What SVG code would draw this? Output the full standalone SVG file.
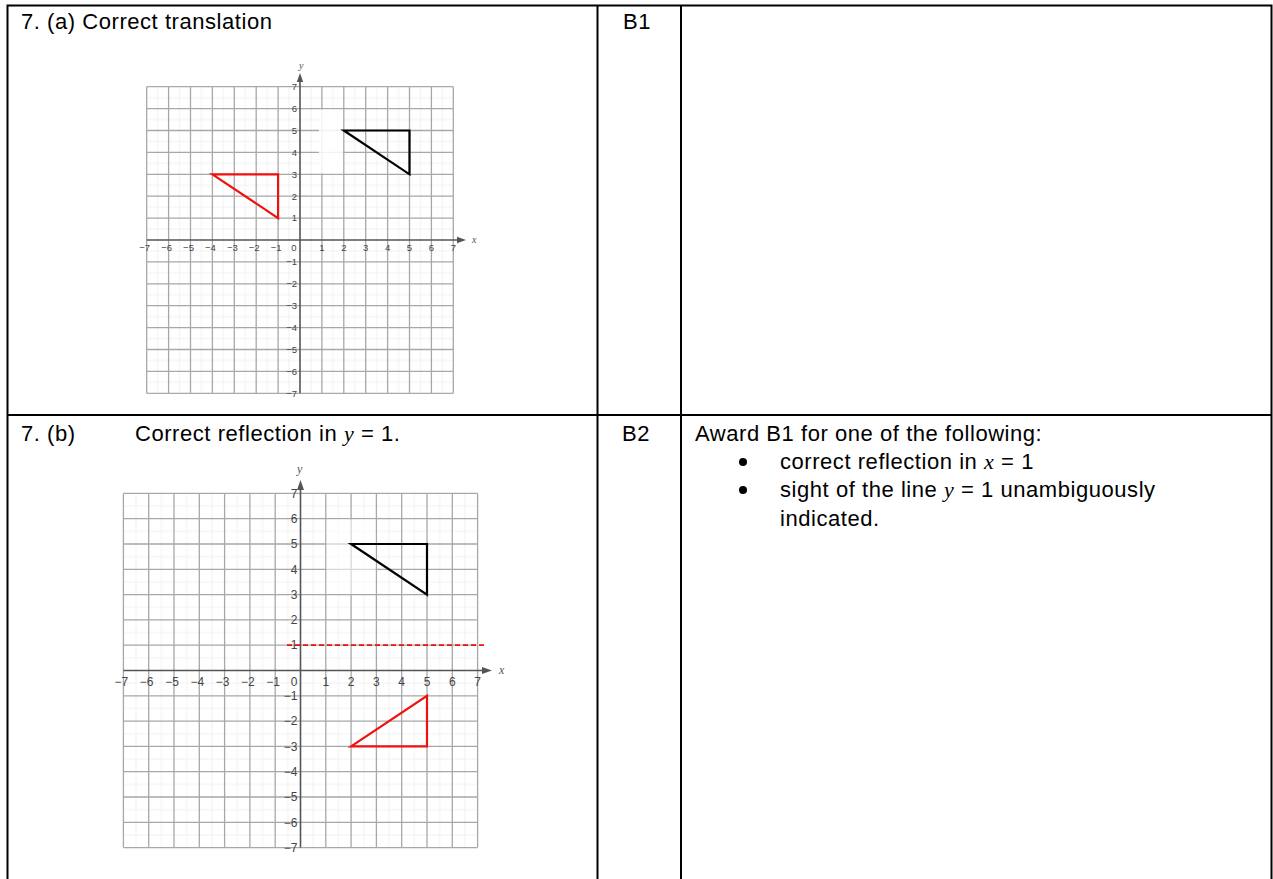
<svg xmlns="http://www.w3.org/2000/svg" width="1273" height="879" viewBox="0 0 1273 879">
<style>
.t{font-family:"Liberation Sans",Arial,sans-serif;font-size:22px;fill:#000;letter-spacing:0.55px}
.it{font-family:"Liberation Serif","Times New Roman",serif;font-style:italic}
.tbl{stroke:#000;stroke-width:2;fill:none}
.grid{stroke:#a8a8a8;stroke-width:1.3;fill:none}
.axis{stroke:#555;stroke-width:1.6;fill:none}
.ah{fill:#555}
.lbA{font-family:"Liberation Sans",Arial,sans-serif;font-size:9.5px;fill:#444}
.lbB{font-family:"Liberation Sans",Arial,sans-serif;font-size:12px;fill:#444}
.ax{font-family:"Liberation Serif","Times New Roman",serif;font-style:italic;fill:#555}
.blk{stroke:#000;stroke-width:2.2;fill:none;stroke-linejoin:miter}
.red{stroke:#f01010;stroke-width:2.2;fill:none;stroke-linejoin:miter}
</style>
<defs>
<pattern id="halfA" x="146.7" y="86.7" width="21.9" height="21.9" patternUnits="userSpaceOnUse">
<path d="M10.95 0V21.9M0 10.95H21.9" stroke="#f1f1f1" stroke-width="1" fill="none"/>
</pattern>
<pattern id="halfB" x="123.4" y="493.4" width="25.3" height="25.3" patternUnits="userSpaceOnUse">
<path d="M12.65 0V25.3M0 12.65H25.3" stroke="#f1f1f1" stroke-width="1" fill="none"/>
</pattern>
</defs>
<rect width="1273" height="879" fill="#fff"/>

<g id="table">
<path class="tbl" d="M7.5 879V5.5H1271.5V879M7.5 415H1271.5M597.5 5.5V879M681 5.5V879"/>
</g>

<g id="row-a-text">
<text class="t" x="21" y="29">7. (a) Correct translation</text>
<text class="t" x="623" y="29">B1</text>
</g>

<g id="row-b-text">
<text class="t" x="21" y="441">7. (b)</text>
<text class="t" x="135" y="441">Correct reflection in <tspan class="it">y</tspan> = 1.</text>
<text class="t" x="622" y="441">B2</text>
<text class="t" x="695" y="441">Award B1 for one of the following:</text>
<circle cx="743" cy="462" r="4" fill="#000"/>
<circle cx="743" cy="490" r="4" fill="#000"/>
<text class="t" x="780" y="469">correct reflection in <tspan class="it">x</tspan> = 1</text>
<text class="t" x="780" y="497">sight of the line <tspan class="it">y</tspan> = 1 unambiguously</text>
<text class="t" x="780" y="526">indicated.</text>
</g>

<g id="graph-a">
<rect x="146.7" y="86.7" width="306.6" height="306.6" fill="url(#halfA)"/>
<path class="grid" d="M146.7 86.7V393.3M168.6 86.7V393.3M190.5 86.7V393.3M212.4 86.7V393.3M234.3 86.7V393.3M256.2 86.7V393.3M278.1 86.7V393.3M321.9 86.7V393.3M343.8 86.7V393.3M365.7 86.7V393.3M387.6 86.7V393.3M409.5 86.7V393.3M431.4 86.7V393.3M453.3 86.7V393.3M146.7 86.7H453.3M146.7 108.6H453.3M146.7 130.5H453.3M146.7 152.4H453.3M146.7 174.3H453.3M146.7 196.2H453.3M146.7 218.1H453.3M146.7 261.9H453.3M146.7 283.8H453.3M146.7 305.7H453.3M146.7 327.6H453.3M146.7 349.5H453.3M146.7 371.4H453.3M146.7 393.3H453.3"/>
<rect x="319" y="109.6" width="23.8" height="63.7" fill="#fff" opacity="0.85"/>
<path class="axis" d="M146.7 240H459M300 393.3V80"/>
<polygon class="ah" points="466,240 457,236.8 457,243.2"/>
<polygon class="ah" points="300,73 296.8,82 303.2,82"/>
<text class="ax" x="299" y="69" font-size="10">y</text>
<text class="ax" x="472" y="243" font-size="10">x</text>
<g class="lbA" text-anchor="middle">
<text x="144.7" y="251">−7</text><text x="166.6" y="251">−6</text><text x="188.5" y="251">−5</text><text x="210.4" y="251">−4</text><text x="232.3" y="251">−3</text><text x="254.2" y="251">−2</text><text x="276.1" y="251">−1</text><text x="294" y="251">0</text>
<text x="321.9" y="251">1</text><text x="343.8" y="251">2</text><text x="365.7" y="251">3</text><text x="387.6" y="251">4</text><text x="409.5" y="251">5</text><text x="431.4" y="251">6</text><text x="453.3" y="251">7</text>
</g>
<g class="lbA" text-anchor="end">
<text x="297" y="90">7</text><text x="297" y="111.9">6</text><text x="297" y="133.8">5</text><text x="297" y="155.7">4</text><text x="297" y="177.6">3</text><text x="297" y="199.5">2</text><text x="297" y="221.4">1</text>
<text x="297" y="265.2">−1</text><text x="297" y="287.1">−2</text><text x="297" y="309">−3</text><text x="297" y="330.9">−4</text><text x="297" y="352.8">−5</text><text x="297" y="374.7">−6</text><text x="297" y="396.6">−7</text>
</g>
<polygon class="blk" points="343.8,130.5 409.5,130.5 409.5,174.3"/>
<polygon class="red" points="212.4,174.3 278.1,174.3 278.1,218.1"/>
</g>

<g id="graph-b">
<rect x="123.4" y="493.4" width="354.2" height="354.2" fill="url(#halfB)"/>
<path class="grid" d="M123.4 493.4V847.6M148.7 493.4V847.6M174 493.4V847.6M199.3 493.4V847.6M224.6 493.4V847.6M249.9 493.4V847.6M275.2 493.4V847.6M325.8 493.4V847.6M351.1 493.4V847.6M376.4 493.4V847.6M401.7 493.4V847.6M427 493.4V847.6M452.3 493.4V847.6M477.6 493.4V847.6M123.4 493.4H477.6M123.4 518.7H477.6M123.4 544H477.6M123.4 569.3H477.6M123.4 594.6H477.6M123.4 619.9H477.6M123.4 645.2H477.6M123.4 695.8H477.6M123.4 721.1H477.6M123.4 746.4H477.6M123.4 771.7H477.6M123.4 797H477.6M123.4 822.3H477.6M123.4 847.6H477.6"/>
<rect x="326.5" y="519.5" width="49" height="74.5" fill="#fff" opacity="0.55"/>
<path class="axis" d="M123.4 670.5H484M300.5 847.6V488"/>
<polygon class="ah" points="492,670.5 482,667 482,674"/>
<polygon class="ah" points="300.5,480 297,490 304,490"/>
<text class="ax" x="297" y="473" font-size="12">y</text>
<text class="ax" x="499" y="674" font-size="12">x</text>
<g class="lbB" text-anchor="middle">
<text x="121.4" y="686">−7</text><text x="146.7" y="686">−6</text><text x="172" y="686">−5</text><text x="197.3" y="686">−4</text><text x="222.6" y="686">−3</text><text x="247.9" y="686">−2</text><text x="273.2" y="686">−1</text><text x="294" y="686">0</text>
<text x="325.8" y="686">1</text><text x="351.1" y="686">2</text><text x="376.4" y="686">3</text><text x="401.7" y="686">4</text><text x="427" y="686">5</text><text x="452.3" y="686">6</text><text x="477.6" y="686">7</text>
</g>
<g class="lbB" text-anchor="end">
<text x="297.5" y="497.6">7</text><text x="297.5" y="522.9">6</text><text x="297.5" y="548.2">5</text><text x="297.5" y="573.5">4</text><text x="297.5" y="598.8">3</text><text x="297.5" y="624.1">2</text><text x="297.5" y="649.4">1</text>
<text x="297.5" y="700">−1</text><text x="297.5" y="725.3">−2</text><text x="297.5" y="750.6">−3</text><text x="297.5" y="775.9">−4</text><text x="297.5" y="801.2">−5</text><text x="297.5" y="826.5">−6</text><text x="297.5" y="851.8">−7</text>
</g>
<line x1="287" y1="645.2" x2="487" y2="645.2" stroke="#f01010" stroke-width="1.8" stroke-dasharray="5,3"/>
<polygon class="blk" points="351.1,544 427,544 427,594.6"/>
<polygon class="red" points="351.1,746.4 427,746.4 427,695.8"/>
</g>
</svg>
